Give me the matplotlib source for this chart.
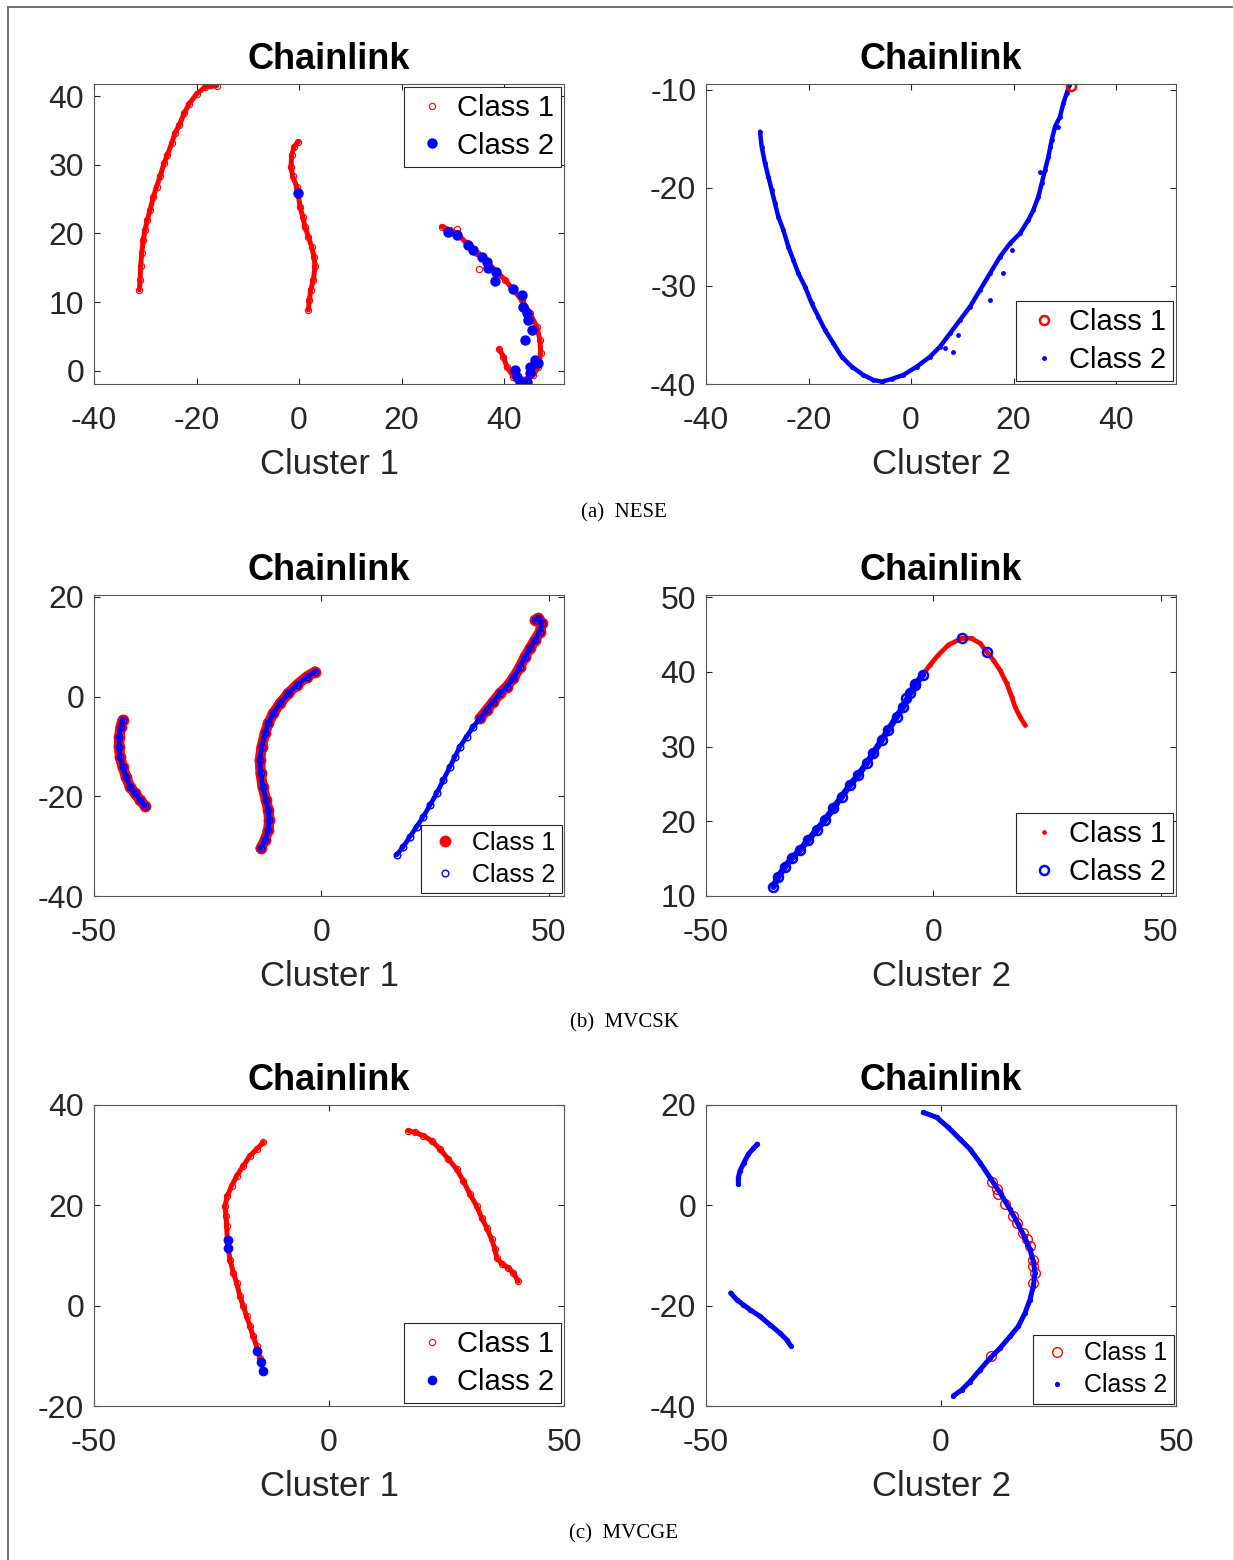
import matplotlib.pyplot as plt
from matplotlib.lines import Line2D

plt.rcParams['font.family'] = ['Liberation Sans', 'DejaVu Sans']
plt.rcParams['axes.unicode_minus'] = False

RED = '#ff0000'
BLUE = '#0000ff'
INK = '#262626'

# ---------------- (a) NESE, cluster 1 ----------------
a1_arc1_x = [-31.15, -31.0, -30.9, -30.7, -30.37, -30.05, -29.6, -29.07, -28.4, -27.8, -27.1,
             -26.34, -25.7, -24.85, -24.2, -23.35, -22.4, -21.4, -19.97, -18.34, -16.07]
a1_arc1_y = [11.8, 13.2, 15.2, 17.1, 19.06, 20.5, 21.97, 23.4, 25.36, 26.8, 28.3,
             30.2, 31.4, 33.1, 34.6, 35.8, 37.5, 38.9, 40.3, 41.3, 41.5]
a1_arc2_x = [-0.13, -0.98, -1.43, -1.56, -1.24, -0.45, -0.13, 0.2, 0.72, 1.17, 1.82,
             2.47, 2.92, 3.12, 2.8, 2.28, 2.02, 1.82]
a1_arc2_y = [33.36, 32.6, 31.4, 29.7, 28.3, 26.8, 25.6, 23.9, 22.45, 21.0, 19.5,
             18.09, 16.6, 15.2, 13.24, 11.78, 10.33, 8.88]
a1_arc3_x = [27.84, 29.46, 30.76, 32.72, 34.67, 36.62, 38.57, 40.2, 41.82, 43.45, 45.07,
             46.37, 47.02, 47.15, 46.7, 45.72, 43.77, 41.82, 40.52, 39.87, 39.09]
a1_arc3_y = [21.0, 20.51, 20.03, 18.57, 17.12, 15.9, 14.45, 13.24, 11.78, 10.33, 8.39,
             6.45, 4.51, 2.57, 0.63, -0.58, -1.3, -0.82, 0.63, 2.09, 3.15]
a1_red_extra_x = [35.19, 30.76]
a1_red_extra_y = [14.89, 20.66]
a1_blue_x = [-0.26, 29.14, 30.76, 33.04, 34.02, 35.64, 36.62, 36.94, 38.44, 38.24, 41.82, 43.45,
             43.77, 44.42, 44.75, 45.4, 44.1, 46.05, 46.7, 45.07, 42.15, 42.47, 43.12, 44.42, 45.07]
a1_blue_y = [25.85, 20.27, 19.78, 18.33, 17.6, 16.63, 15.9, 14.94, 14.45, 13.15, 11.88, 11.06,
             9.36, 8.39, 7.42, 5.97, 4.51, 1.6, 1.12, 0.63, 0.15, -0.82, -1.55, -1.55, -0.34]

# ---------------- (a) NESE, cluster 2 ----------------
a2_blue_x = [-29.46, -29.14, -28.49, -27.84, -27.19, -26.54, -25.89, -24.91, -23.93, -22.96,
             -21.98, -20.68, -19.38, -18.08, -16.78, -15.15, -13.53, -11.58, -9.3, -7.35,
             -5.72, -3.77, -1.5, 1.11, 3.71, 5.66, 7.61, 9.56, 11.51, 13.46, 15.42, 17.37,
             19.32, 21.27, 22.9, 23.87, 24.85, 25.5, 26.15, 26.8, 27.45, 28.1, 29.07, 29.72,
             30.37, 30.9]
a2_blue_y = [-14.25, -15.78, -17.48, -18.84, -20.2, -21.57, -22.93, -24.29, -25.99, -27.35,
             -28.71, -30.07, -31.77, -33.13, -34.49, -35.85, -37.21, -38.23, -39.08, -39.59,
             -39.76, -39.49, -39.08, -38.23, -37.21, -36.19, -34.83, -33.47, -32.11, -30.41,
             -28.71, -27.01, -25.65, -24.63, -23.27, -22.25, -20.88, -19.52, -18.16, -16.8,
             -15.1, -13.74, -12.72, -11.36, -10.34, -9.49]
a2_blue_extra_x = [15.42, 8.26, 6.63, 9.24, 18.02, 19.64, 25.17, 28.75, 27.12]
a2_blue_extra_y = [-31.43, -36.7, -36.36, -35.0, -28.71, -26.33, -18.33, -13.74, -15.78]
a2_red_x = [31.15]
a2_red_y = [-9.6]

# ---------------- (b) MVCSK, cluster 1 ----------------
b1_arc1_x = [-43.7, -44.14, -44.43, -44.51, -44.29, -43.7, -42.97, -42.09, -40.99, -39.89, -38.79]
b1_arc1_y = [-4.68, -6.02, -8.03, -10.03, -12.04, -14.05, -16.05, -18.06, -19.4, -20.74, -21.94]
b1_arc2_x = [-1.43, -3.26, -5.46, -7.29, -9.12, -10.59, -11.69, -12.42, -13.15, -13.52, -13.37,
             -12.93, -12.2, -11.69, -11.47, -11.69, -12.42, -13.37]
b1_arc2_y = [5.02, 4.01, 2.34, 0.67, -1.34, -3.35, -5.35, -7.36, -10.03, -12.71, -15.38,
             -18.06, -20.74, -22.74, -24.75, -26.76, -28.76, -30.43]
b1_arc3_lo_x = [16.52, 17.98, 19.45, 20.91, 22.38, 23.85, 25.31, 26.78, 28.24, 29.34, 30.44,
                31.9, 33.37, 34.83]
b1_arc3_lo_y = [-31.77, -30.1, -28.09, -26.09, -24.08, -21.74, -19.4, -16.72, -14.05, -12.04,
                -10.03, -8.03, -6.02, -4.35]
b1_arc3_hi_x = [34.83, 36.3, 37.76, 39.23, 40.7, 42.16, 43.63, 44.72, 45.82, 46.92, 48.02,
                48.39, 47.65, 46.92]
b1_arc3_hi_y = [-4.35, -2.68, -1.0, 0.67, 2.0, 3.68, 6.02, 8.03, 9.7, 11.37, 13.04,
                14.72, 15.72, 15.39]

# ---------------- (b) MVCSK, cluster 2 ----------------
b2_line_x = [-35.2, -34.1, -32.64, -31.17, -29.34, -27.51, -25.68, -23.85, -22.02, -20.18, -18.35,
             -16.52, -14.69, -13.22, -11.39, -9.93, -8.1, -6.63, -5.17, -4.07, -2.38]
b2_line_y = [11.25, 12.59, 13.93, 15.04, 16.16, 17.5, 18.83, 20.17, 21.73, 23.29, 24.85,
             26.19, 27.75, 29.09, 30.87, 32.21, 33.99, 35.33, 37.12, 38.23, 39.57]
b2_arc_x = [-2.38, -0.77, 1.06, 3.26, 6.19, 8.39, 10.22, 11.68, 13.15, 14.61, 16.08, 17.18,
            17.91, 19.01, 20.11]
b2_arc_y = [39.57, 40.91, 42.24, 43.58, 44.47, 44.47, 43.81, 42.69, 41.58, 40.24, 38.45, 36.67,
            35.33, 33.99, 32.88]
b2_blue_extra_x = [6.19, 11.83, -4.07, -6.05]
b2_blue_extra_y = [44.47, 42.6, 38.32, 36.45]

# ---------------- (c) MVCGE, cluster 1 ----------------
c1_arc1_x = [-13.97, -15.39, -16.81, -18.23, -19.64, -20.71, -21.63, -22.13, -21.91, -21.77,
             -21.63, -21.42, -21.06, -20.35, -19.64, -18.94, -18.23, -17.52, -16.81, -16.1,
             -15.39, -14.68, -14.11]
c1_arc1_y = [32.53, 31.2, 29.87, 27.87, 25.87, 23.87, 21.87, 19.87, 17.87, 15.87,
             13.2, 11.2, 9.2, 6.53, 4.53, 1.87, -0.13, -2.13, -4.13, -6.13,
             -8.13, -10.47, -12.8]
c1_arc2_x = [16.88, 18.3, 20.07, 21.85, 23.62, 25.39, 27.16, 28.58, 30.0, 31.42, 32.48, 33.55,
             34.61, 35.32, 35.67, 36.74, 38.16, 39.22, 40.28]
c1_arc2_y = [34.87, 34.53, 33.87, 32.87, 31.2, 29.2, 27.2, 24.87, 22.2, 19.87, 17.53, 15.53,
             13.2, 11.2, 9.53, 8.4, 7.53, 6.53, 4.87]
c1_blue_x = [-21.56, -21.42, -15.39, -14.54, -14.11]
c1_blue_y = [13.07, 11.53, -9.13, -11.13, -12.93]

# ---------------- (c) MVCGE, cluster 2 ----------------
c2_arcA_x = [-39.08, -39.93, -41.0, -41.92, -42.77, -43.12, -43.12]
c2_arcA_y = [12.2, 11.33, 10.2, 8.53, 6.87, 5.53, 4.2]
c2_arcB_x = [-44.76, -43.48, -42.06, -40.64, -38.51, -36.39, -34.26, -32.84, -31.99]
c2_arcB_y = [-17.47, -18.8, -19.8, -20.8, -22.13, -23.8, -25.47, -26.8, -28.0]
c2_arcC_x = [-3.76, -0.93, 1.56, 4.04, 6.17, 8.29, 10.42, 12.55, 14.68, 16.45, 17.87, 18.93,
             19.64, 20.0, 19.64, 18.93, 17.87, 16.45, 14.68, 12.55, 10.42, 8.29, 6.17, 4.39, 2.62]
c2_arcC_y = [18.53, 17.53, 15.53, 13.2, 11.2, 8.53, 5.53, 2.53, -0.8, -3.8, -6.47, -8.8,
             -11.13, -13.47, -16.13, -18.8, -21.47, -24.13, -26.13, -28.47, -30.47, -32.8,
             -35.13, -36.8, -38.0]
c2_red_x = [10.78, 11.84, 12.2, 13.61, 15.39, 16.1, 17.51, 18.22, 18.93, 19.5, 19.64, 20.0, 19.64, 10.56]
c2_red_y = [4.67, 3.2, 2.2, 0.2, -2.13, -3.47, -5.47, -6.8, -8.13, -10.8, -12.13, -13.47, -15.47, -30.0]

legend_labels = ['Class 1', 'Class 2']
captions = ['(a)  NESE', '(b)  MVCSK', '(c)  MVCGE']


def chain(ax, xs, ys, color, lw, **mk):
    # dense point chains: a band underneath plus the markers
    if lw > 0:
        ax.plot(xs, ys, '-', color=color, lw=lw, solid_capstyle='round', solid_joinstyle='round')
    return ax.plot(xs, ys, ls='none', **mk)[0]


def open_mk(color, ms, mew):
    return dict(marker='o', ms=ms, mfc='none', mec=color, mew=mew)


def dot_mk(color, ms):
    return dict(marker='o', ms=ms, mfc=color, mec=color, mew=0)


def style(ax, xlim, ylim, xticks, yticks, xlabel):
    ax.set_xlim(xlim)
    ax.set_ylim(ylim)
    ax.set_xticks(xticks)
    ax.set_yticks(yticks)
    ax.tick_params(direction='in', top=True, right=True, length=4, width=0.8,
                   labelsize=23, colors=INK)
    ax.tick_params(axis='x', pad=15.5)
    ax.tick_params(axis='y', pad=7)
    for sp in ax.spines.values():
        sp.set_color('#555555')
        sp.set_linewidth(0.8)
    ax.set_title('Chainlink', fontsize=26, fontweight='bold', pad=10.5)
    ax.set_xlabel(xlabel, fontsize=25, color=INK, labelpad=9)


def add_legend(ax, handles, loc, fs):
    # MATLAB keeps the icon gap roughly fixed, so the bigger font gets a tighter pad
    tp = 0.4 if fs < 20 else 0.15
    lg = ax.legend(handles, legend_labels, loc=loc, fontsize=fs, fancybox=False, framealpha=1,
                   edgecolor=INK, borderpad=0.25, labelspacing=0.32, handlelength=1.4,
                   handletextpad=tp, borderaxespad=0.1, numpoints=1)
    lg.get_frame().set_linewidth(0.8)


fig = plt.figure(figsize=(12.34, 15.6), dpi=100)
W, H = 1234.0, 1560.0


def make_ax(left, top, right, bottom):
    return fig.add_axes([left / W, 1 - bottom / H, (right - left) / W, (bottom - top) / H])


# (a) left
ax = make_ax(94, 84, 564, 384)
for xs, ys in [(a1_arc1_x, a1_arc1_y), (a1_arc2_x, a1_arc2_y), (a1_arc3_x, a1_arc3_y)]:
    h1 = chain(ax, xs, ys, RED, 3.6, **open_mk(RED, 4.5, 0.8))
chain(ax, a1_red_extra_x, a1_red_extra_y, RED, 0, **open_mk(RED, 4.5, 0.8))
h2 = chain(ax, a1_blue_x, a1_blue_y, BLUE, 0, **dot_mk(BLUE, 7.5))
style(ax, (-40, 51.7), (-1.9, 41.75), [-40, -20, 0, 20, 40], [0, 10, 20, 30, 40], 'Cluster 1')
add_legend(ax, [h1, h2], 'upper right', 21)

# (a) right
ax = make_ax(706, 84, 1176, 384)
h2 = chain(ax, a2_blue_x, a2_blue_y, BLUE, 3.2, **dot_mk(BLUE, 3.5))
chain(ax, a2_blue_extra_x, a2_blue_extra_y, BLUE, 0, **dot_mk(BLUE, 3.5))
h1 = chain(ax, a2_red_x, a2_red_y, RED, 0, **open_mk(RED, 6.5, 1.8))
style(ax, (-40, 51.7), (-40, -9.39), [-40, -20, 0, 20, 40], [-40, -30, -20, -10], 'Cluster 2')
add_legend(ax, [h1, h2], 'lower right', 21)

# (b) left
ax = make_ax(94, 595, 564, 896)
for xs, ys in [(b1_arc1_x, b1_arc1_y), (b1_arc2_x, b1_arc2_y), (b1_arc3_hi_x, b1_arc3_hi_y)]:
    h1 = chain(ax, xs, ys, RED, 7.5, **dot_mk(RED, 8.5))
for xs, ys in [(b1_arc1_x, b1_arc1_y), (b1_arc2_x, b1_arc2_y),
               (b1_arc3_lo_x, b1_arc3_lo_y), (b1_arc3_hi_x, b1_arc3_hi_y)]:
    h2 = chain(ax, xs, ys, BLUE, 3.4, **open_mk(BLUE, 4.8, 1.0))
style(ax, (-50, 53.3), (-40, 20.4), [-50, 0, 50], [-40, -20, 0, 20], 'Cluster 1')
add_legend(ax, [h1, h2], 'lower right', 18)

# (b) right
ax = make_ax(706, 595, 1176, 896)
chain(ax, b2_line_x, b2_line_y, RED, 2.2, **dot_mk(RED, 3.2))
h1 = chain(ax, b2_arc_x, b2_arc_y, RED, 3.4, **dot_mk(RED, 3.4))
h2 = chain(ax, b2_line_x, b2_line_y, BLUE, 4.6, **open_mk(BLUE, 6.5, 1.8))
chain(ax, b2_blue_extra_x, b2_blue_extra_y, BLUE, 0, **open_mk(BLUE, 6.5, 1.8))
style(ax, (-50, 53.3), (10, 50.27), [-50, 0, 50], [10, 20, 30, 40, 50], 'Cluster 2')
add_legend(ax, [h1, h2], 'lower right', 21)

# (c) left
ax = make_ax(94, 1105, 564, 1406)
for xs, ys in [(c1_arc1_x, c1_arc1_y), (c1_arc2_x, c1_arc2_y)]:
    h1 = chain(ax, xs, ys, RED, 3.6, **open_mk(RED, 4.5, 0.8))
h2 = chain(ax, c1_blue_x, c1_blue_y, BLUE, 0, **dot_mk(BLUE, 7))
style(ax, (-50, 50), (-20, 40), [-50, 0, 50], [-20, 0, 20, 40], 'Cluster 1')
add_legend(ax, [h1, h2], 'lower right', 21)

# (c) right
ax = make_ax(706, 1105, 1176, 1406)
h1 = chain(ax, c2_red_x, c2_red_y, RED, 0, **open_mk(RED, 7, 1.0))
for xs, ys in [(c2_arcA_x, c2_arcA_y), (c2_arcB_x, c2_arcB_y), (c2_arcC_x, c2_arcC_y)]:
    h2 = chain(ax, xs, ys, BLUE, 3.6, **dot_mk(BLUE, 3.8))
style(ax, (-50, 50), (-40, 20), [-50, 0, 50], [-40, -20, 0, 20], 'Cluster 2')
add_legend(ax, [h1, h2], 'lower right', 18)

# sub-figure captions
for cap, yc in zip(captions, [513, 1023, 1534]):
    fig.text(624 / W, 1 - yc / H, cap, ha='center', va='center', fontsize=15,
             family=['Liberation Serif', 'DejaVu Serif'], color='black')

# page frame
fig.add_artist(Line2D([8 / W, 1], [1 - 6.5 / H] * 2, transform=fig.transFigure, color='#6e6e6e', lw=1.4))
fig.add_artist(Line2D([8 / W] * 2, [0, 1 - 6.5 / H], transform=fig.transFigure, color='#6e6e6e', lw=1.4))
fig.add_artist(Line2D([1233 / W] * 2, [0, 1], transform=fig.transFigure, color='#e6e6e6', lw=0.8))

fig.savefig('out.png', dpi=100)
